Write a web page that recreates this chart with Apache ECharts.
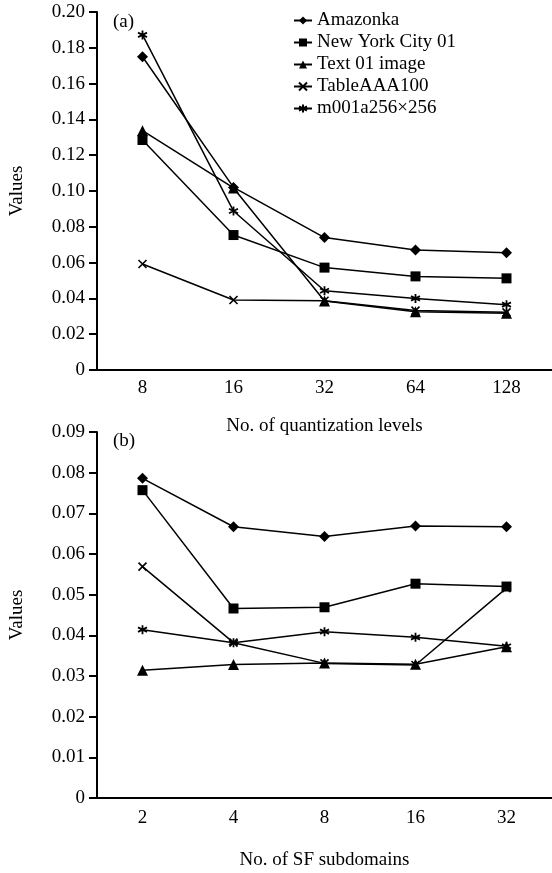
<!DOCTYPE html>
<html>
<head>
<meta charset="utf-8">
<script src="https://cdn.jsdelivr.net/npm/echarts@6/dist/echarts.min.js"></script>
<style>
  html, body { margin: 0; padding: 0; background: #fff; }
  #chart { width: 552px; height: 873px; }
</style>
</head>
<body>
<div id="chart"></div>
<script>
// 数据
const seriesNames = ['Amazonka', 'New York City 01', 'Text 01 image', 'TableAAA100', 'm001a256×256']

// (a) 量化级数
const levelsA = ['8', '16', '32', '64', '128']
const amazonkaA = [0.175, 0.102, 0.074, 0.067, 0.0655]
const newYorkA = [0.1285, 0.0754, 0.0572, 0.0523, 0.0512]
const text01A = [0.1337, 0.1017, 0.0385, 0.0326, 0.0317]
const tableA = [0.0592, 0.0391, 0.0387, 0.0332, 0.0322]
const m001A = [0.1872, 0.0888, 0.0443, 0.0400, 0.0365]

// (b) SF 子域数
const subdomainsB = ['2', '4', '8', '16', '32']
const amazonkaB = [0.0786, 0.0667, 0.0643, 0.0669, 0.0667]
const newYorkB = [0.0757, 0.0466, 0.0469, 0.0527, 0.0520]
const text01B = [0.0314, 0.0328, 0.0332, 0.0329, 0.0372]
const tableB = [0.0569, 0.0382, 0.0331, 0.0327, 0.0516]
const m001B = [0.0414, 0.0382, 0.0409, 0.0395, 0.0373]

const FONT = 'Liberation Serif'
const crossPath = 'path://M0,0L10,10M10,0L0,10'
const starPath = 'path://M5,0L5,10M0.67,2.5L9.33,7.5M0.67,7.5L9.33,2.5'

// 各系列的标记样式
const marks = [
  { symbol: 'diamond', size: 11, stroke: 0 },
  { symbol: 'rect', size: 10, stroke: 0 },
  { symbol: 'triangle', size: 11, stroke: 0 },
  { symbol: crossPath, size: 8, stroke: 1.6 },
  { symbol: starPath, size: 9, stroke: 1.8 }
]

function makeSeries(dataList, axisIdx) {
  return dataList.map((data, i) => ({
    name: seriesNames[i],
    type: 'line',
    xAxisIndex: axisIdx,
    yAxisIndex: axisIdx,
    data,
    symbol: marks[i].symbol,
    symbolSize: marks[i].size,
    showAllSymbol: true,
    lineStyle: { color: '#000', width: 1.5 },
    itemStyle: { color: '#000', borderColor: '#000', borderWidth: marks[i].stroke },
    emphasis: { disabled: true }
  }))
}

function xAxis(idx, cats, name, gap, margin) {
  return {
    type: 'category',
    gridIndex: idx,
    data: cats,
    name,
    nameLocation: 'middle',
    nameGap: gap,
    nameTextStyle: { fontFamily: FONT, fontSize: 19, color: '#000' },
    axisLine: { lineStyle: { color: '#000', width: 2 } },
    axisTick: { length: 6, lineStyle: { color: '#000', width: 2 } },
    axisLabel: { fontFamily: FONT, fontSize: 19, color: '#000', margin }
  }
}

function yAxis(idx, max, interval) {
  return {
    type: 'value',
    gridIndex: idx,
    min: 0,
    max,
    interval,
    name: 'Values',
    nameLocation: 'middle',
    nameGap: 70,
    nameTextStyle: { fontFamily: FONT, fontSize: 19, color: '#000' },
    axisLine: { show: true, lineStyle: { color: '#000', width: 2 } },
    axisTick: { show: true, length: 8, lineStyle: { color: '#000', width: 2 } },
    axisLabel: {
      fontFamily: FONT, fontSize: 19, color: '#000', margin: 12,
      formatter: v => (v === 0 ? '0' : v.toFixed(2))
    },
    splitLine: { show: false }
  }
}

// 绘制顺序: X 标记压在三角形下面
const drawOrder = [0, 1, 3, 4, 2]
const seriesA = makeSeries([amazonkaA, newYorkA, text01A, tableA, m001A], 0)
const seriesB = makeSeries([amazonkaB, newYorkB, text01B, tableB, m001B], 1)

const chart = echarts.init(document.getElementById('chart'))

chart.setOption({
  animation: false,
  backgroundColor: '#fff',
  grid: [
    { left: 94, right: 0, top: 12, height: 358 },
    { left: 94, right: 0, top: 432, height: 366 }
  ],
  legend: {
    orient: 'vertical',
    left: 293,
    top: 11,
    padding: 0,
    itemWidth: 18,
    itemHeight: 10,
    itemGap: 3,
    data: seriesNames,
    textStyle: { fontFamily: FONT, fontSize: 19, color: '#000' }
  },
  graphic: [
    { type: 'text', left: 113, top: 13, style: { text: '(a)', font: '19px "Liberation Serif"', fill: '#000' } },
    { type: 'text', left: 113, top: 432, style: { text: '(b)', font: '19px "Liberation Serif"', fill: '#000' } }
  ],
  xAxis: [
    xAxis(0, levelsA, 'No. of quantization levels', 47, 9),
    xAxis(1, subdomainsB, 'No. of SF subdomains', 53, 11)
  ],
  yAxis: [
    yAxis(0, 0.2, 0.02),
    yAxis(1, 0.09, 0.01)
  ],
  series: [...drawOrder.map(i => seriesA[i]), ...drawOrder.map(i => seriesB[i])]
})

window.addEventListener('resize', () => chart.resize())
</script>
</body>
</html>
